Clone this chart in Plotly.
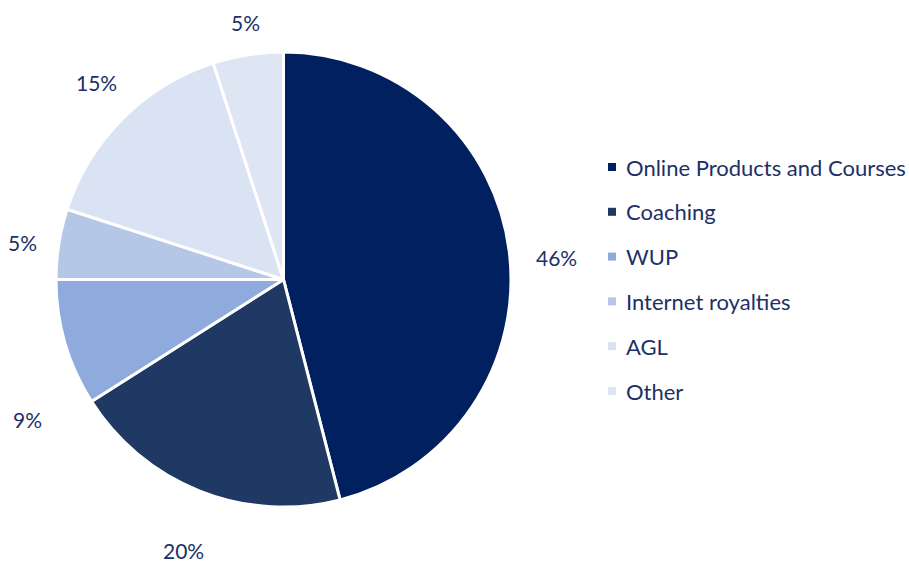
import math
import plotly.graph_objects as go

# Revenue mix by source
categories = ["Online Products and Courses", "Coaching", "WUP",
              "Internet royalties", "AGL", "Other"]
shares = [46, 20, 9, 5, 15, 5]
colors = ["#002060", "#203864", "#8faadc", "#b4c7e7", "#dae3f3", "#dfe6f3"]

W, H = 909, 564
TEXT = "#1c3166"
FONT = "Lato"

# pie geometry in pixels
cx, cy, r = 283.5, 279.5, 227.5

# label placement: radial distance (px) and angular nudge (deg) per slice
label_dist = [274, 289, 292, 264, 271, 260]
label_nudge = [2.5, -1.4, -12.5, -1.0, 1.5, 0.7]

fig = go.Figure(go.Pie(
    labels=categories,
    values=shares,
    sort=False,
    direction="clockwise",
    rotation=0,
    marker=dict(colors=colors, line=dict(color="white", width=3)),
    textinfo="none",
    hoverinfo="label+percent",
    showlegend=False,
    domain=dict(x=[(cx - r) / W, (cx + r) / W],
                y=[1 - (cy + r) / H, 1 - (cy - r) / H]),
))

annotations = []
shapes = []
total = sum(shares)
cum = 0
for i, v in enumerate(shares):
    mid = (cum + v / 2) / total * 360 + label_nudge[i]
    cum += v
    a = math.radians(mid)
    px = cx + label_dist[i] * math.sin(a)
    py = cy - label_dist[i] * math.cos(a)
    annotations.append(dict(
        x=px / W, y=1 - py / H, xref="paper", yref="paper",
        text=f"{round(v / total * 100)}%", showarrow=False,
        xanchor="center", yanchor="middle",
        font=dict(family=FONT, size=21, color=TEXT),
    ))

# legend: square swatch plus label per category
leg_x, leg_y0, leg_step, sw = 612, 167, 44.8, 8
for i, (name, col) in enumerate(zip(categories, colors)):
    y = leg_y0 + i * leg_step
    shapes.append(dict(
        type="rect", xref="paper", yref="paper",
        x0=(leg_x - sw / 2) / W, x1=(leg_x + sw / 2) / W,
        y0=1 - (y + sw / 2) / H, y1=1 - (y - sw / 2) / H,
        fillcolor=col, line=dict(width=0),
    ))
    annotations.append(dict(
        x=(leg_x + 12) / W, y=1 - y / H, xref="paper", yref="paper",
        text=name, showarrow=False, xanchor="left", yanchor="middle",
        font=dict(family=FONT, size=22, color=TEXT),
    ))

fig.update_layout(
    width=W, height=H,
    margin=dict(l=0, r=0, t=0, b=0),
    paper_bgcolor="white", plot_bgcolor="white",
    annotations=annotations, shapes=shapes,
)

fig.write_html("out.html")
